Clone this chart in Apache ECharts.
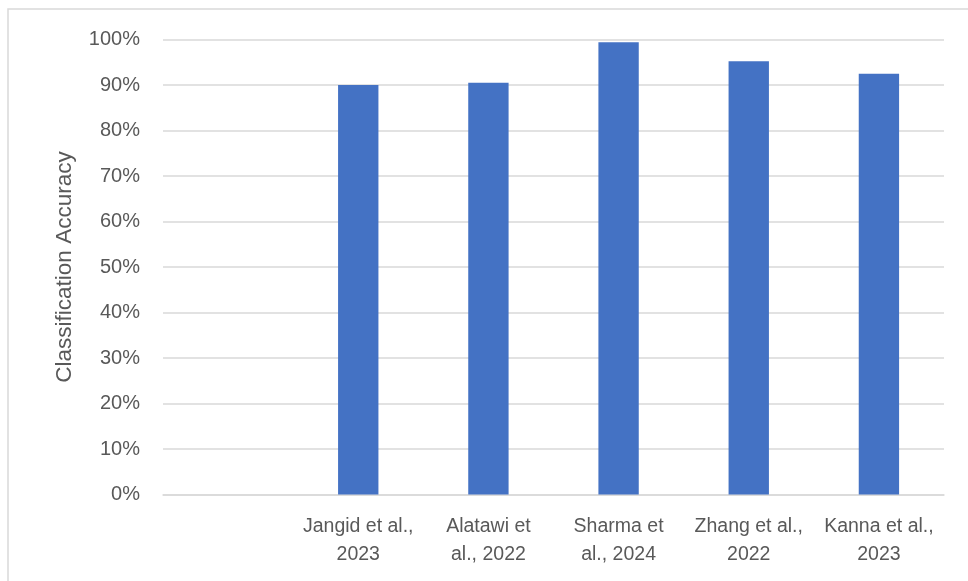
<!DOCTYPE html>
<html>
<head>
<meta charset="utf-8">
<script src="https://cdn.jsdelivr.net/npm/echarts@6/dist/echarts.min.js"></script>
<style>
  html, body { margin: 0; padding: 0; background: #fff; }
  #chart { width: 968px; height: 581px; }
</style>
</head>
<body>
<div id="chart"></div>
<script>
// Studies compared (first slot is intentionally blank)
const categories = ['', 'Jangid et al.,\n2023', 'Alatawi et\nal., 2022', 'Sharma et\nal., 2024', 'Zhang et al.,\n2022', 'Kanna et al.,\n2023'];
// Classification accuracy, percent
const accuracy = [null, 90.0, 90.5, 99.4, 95.2, 92.5];
const yTicks = [0, 10, 20, 30, 40, 50, 60, 70, 80, 90, 100];

const FONT = '"Liberation Sans", "DejaVu Sans", sans-serif';
const chart = echarts.init(document.getElementById('chart'), null, { renderer: 'canvas' });
chart.setOption({
  animation: false,
  backgroundColor: '#ffffff',
  graphic: [{
    type: 'rect',
    shape: { x: 8, y: 9, width: 980, height: 600 },
    style: { fill: 'none', stroke: '#d9d9d9', lineWidth: 1.5 },
    silent: true
  }],
  grid: { left: 163, right: 24, top: 39.5, bottom: 86.5 },
  xAxis: {
    type: 'category',
    data: categories,
    axisTick: { show: false },
    axisLine: { lineStyle: { color: '#d9d9d9', width: 1.5 } },
    axisLabel: {
      color: '#595959', fontFamily: FONT, fontSize: 19.5, lineHeight: 28,
      margin: 18, interval: 0
    }
  },
  yAxis: {
    type: 'value',
    min: yTicks[0],
    max: yTicks[yTicks.length - 1],
    interval: 10,
    name: 'Classification Accuracy',
    nameLocation: 'middle',
    nameRotate: 90,
    nameGap: 87,
    nameTextStyle: { color: '#595959', fontFamily: FONT, fontSize: 22.5 },
    axisLine: { show: false },
    axisTick: { show: false },
    axisLabel: {
      color: '#595959', fontFamily: FONT, fontSize: 20, margin: 23,
      formatter: v => v + '%'
    },
    splitLine: { lineStyle: { color: '#d9d9d9', width: 1.5 } }
  },
  series: [{
    type: 'bar',
    data: accuracy,
    barWidth: '31%',
    itemStyle: { color: '#4472c4' }
  }]
});
</script>
</body>
</html>
